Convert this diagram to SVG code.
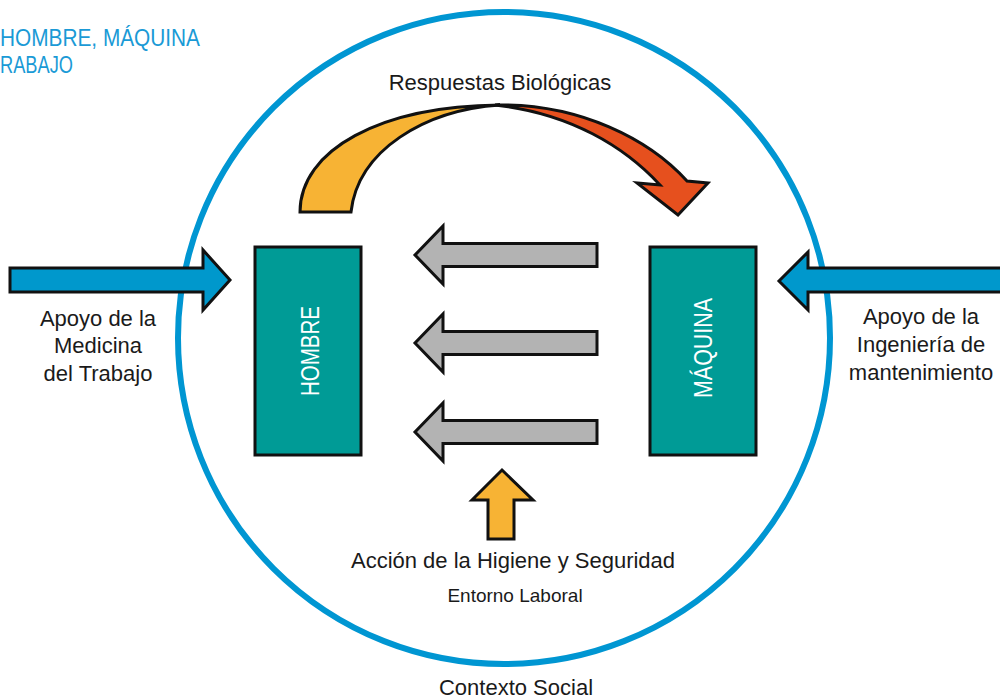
<svg xmlns="http://www.w3.org/2000/svg" width="1000" height="699" viewBox="0 0 1000 699">
<style>
.lbl{font-family:"Liberation Sans",Arial,sans-serif;font-size:22px;fill:#1a1a1a;text-anchor:middle}
.lbl.sm{font-size:19px}
.box{fill:#009B96;stroke:#111;stroke-width:3}
.boxt{font-family:"Liberation Sans",Arial,sans-serif;font-size:25px;fill:#fff;text-anchor:middle}
.arr{stroke:#111;stroke-width:3;stroke-linejoin:miter}
.blue{fill:#0098CC}
.gray{fill:#B3B3B3}
.orange{fill:#F7B334}
.red{fill:#E6501E}
.title{font-family:"Liberation Sans",Arial,sans-serif;font-size:24px;fill:#1A9AD6}
</style>
<defs>
<polygon id="gArrow" points="597,-11.5 443,-11.5 443,-29 415,0 443,29 443,11.5 597,11.5"/>
</defs>
<g id="title">
<text class="title" x="0" y="46" textLength="200" lengthAdjust="spacingAndGlyphs">HOMBRE, MÁQUINA</text>
<text class="title" x="0" y="73" textLength="73" lengthAdjust="spacingAndGlyphs">RABAJO</text>
</g>
<g id="contexto">
<circle cx="504" cy="338" r="326" fill="none" stroke="#0096D2" stroke-width="6"/>
<text class="lbl" x="516" y="695">Contexto Social</text>
</g>
<g id="connectors">
<g id="respuestas">
<path class="arr orange" d="M300,212 C300,150 380,106 500,105 C425,110 358,150 351,212 Z"/>
<path class="arr red" d="M495,105 C580,103 650,140 687,181 L708,183 L678,215 L637,183 L660,185 C625,147 570,113 495,105 Z"/>
<text class="lbl" x="500" y="90">Respuestas Biológicas</text>
</g>
<g id="gris">
<use href="#gArrow" class="arr gray" transform="translate(0,255)"/>
<use href="#gArrow" class="arr gray" transform="translate(0,343)"/>
<use href="#gArrow" class="arr gray" transform="translate(0,432)"/>
</g>
<g id="medicina">
<polygon class="arr blue" points="10,268 203,268 203,250 230,280 203,310 203,292 10,292"/>
<text class="lbl" x="98" y="326">Apoyo de la</text>
<text class="lbl" x="98" y="353">Medicina</text>
<text class="lbl" x="98" y="381">del Trabajo</text>
</g>
<g id="ingenieria">
<polygon class="arr blue" points="1002,268 808,268 808,252 779,281 808,310 808,292 1002,292"/>
<text class="lbl" x="921" y="324">Apoyo de la</text>
<text class="lbl" x="921" y="352">Ingeniería de</text>
<text class="lbl" x="921" y="380">mantenimiento</text>
</g>
<g id="higiene">
<polygon class="arr orange" points="502,470 533,500 514,500 514,539 488,539 488,500 472,500"/>
<text class="lbl" x="513" y="568">Acción de la Higiene y Seguridad</text>
<text class="lbl sm" x="515" y="602">Entorno Laboral</text>
</g>
</g>
<g id="hombre">
<rect class="box" x="255" y="247" width="106" height="208"/>
<text class="boxt" transform="translate(319,351) rotate(-90)" x="0" y="0" textLength="90" lengthAdjust="spacingAndGlyphs">HOMBRE</text>
</g>
<g id="maquina">
<rect class="box" x="650" y="247" width="106" height="208"/>
<text class="boxt" transform="translate(712,348) rotate(-90)" x="0" y="0" textLength="100" lengthAdjust="spacingAndGlyphs">MÁQUINA</text>
</g>
</svg>
